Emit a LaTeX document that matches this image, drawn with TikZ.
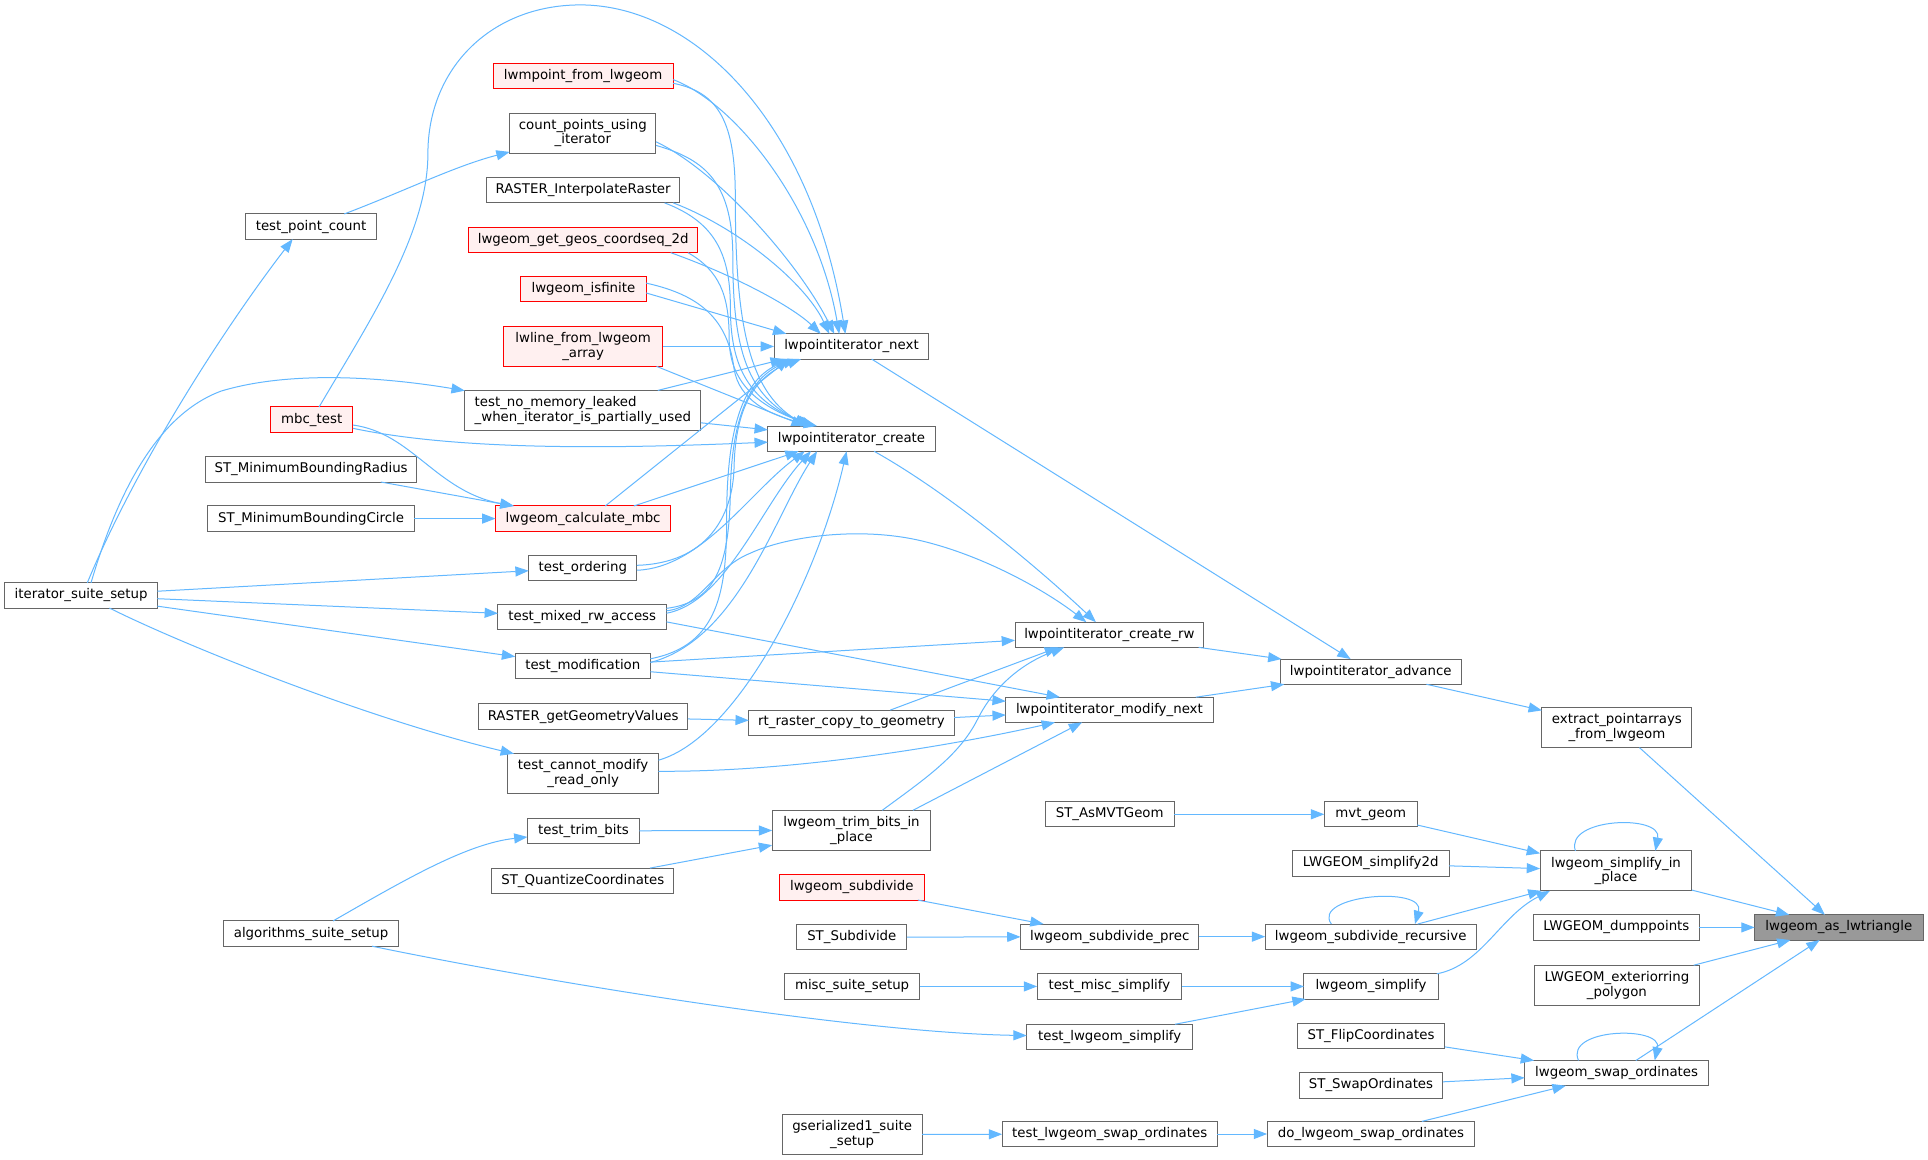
\documentclass[tikz,border=0pt]{standalone}
\usepackage{fontspec}
\setmainfont{DejaVu Sans}
\usetikzlibrary{arrows.meta,calc}
\definecolor{edgec}{HTML}{63B8FF}
\definecolor{bordc}{HTML}{666666}
\definecolor{redfill}{HTML}{FFF0F0}
\definecolor{rootfill}{HTML}{999999}
\begin{document}
\begin{tikzpicture}[x=0.9222pt,y=-0.9222pt,
 nbox/.style={draw=bordc,line width=0.75pt,fill=white,inner sep=0pt,outer sep=0pt,font=\fontsize{10}{11}\selectfont,align=center,text=black},
 redbox/.style={nbox,draw=red,fill=redfill},
 rootbox/.style={nbox,fill=rootfill},
 bb/.style n args={4}{minimum width={(#3-#1)*0.9222pt},minimum height={(#4-#2)*0.9222pt},at={({(#1+#3)/2},{(#2+#4)/2})}},
 edg/.style={draw=edgec,line width=0.75pt,-{Triangle[length=10pt,width=7.5pt]}}]
\fill[white] (0,0) rectangle (1568,943);
\useasboundingbox (0,0) rectangle (1568,943);
% nodes
\node[redbox,bb={401}{51.5}{547.5}{72}] (lwmpoint) {lwmpoint\_from\_lwgeom};
\node[nbox,bb={414.5}{92}{533.5}{124.5}] (countpts) {count\_points\_using\\\_iterator};
\node[nbox,bb={396}{144.5}{552.5}{165}] (rasterinterp) {RASTER\_InterpolateRaster};
\node[redbox,bb={381}{185}{567.5}{205.5}] (geos) {lwgeom\_get\_geos\_coordseq\_2d};
\node[redbox,bb={423.5}{225}{525.5}{245.5}] (isfinite) {lwgeom\_isfinite};
\node[redbox,bb={409.5}{265.5}{539}{298}] (lwline) {lwline\_from\_lwgeom\\\_array};
\node[nbox,align=left,bb={378}{317.5}{570}{350}] (nomem) {test\_no\_memory\_leaked\\\_when\_iterator\_is\_partially\_used};
\node[redbox,bb={220}{331}{287}{351.5}] (mbctest) {mbc\_test};
\node[nbox,bb={200}{174}{306}{194.5}] (tpc) {test\_point\_count};
\node[nbox,bb={167}{371.5}{339}{392}] (stmbr) {ST\_MinimumBoundingRadius};
\node[nbox,bb={169}{411.5}{337}{432}] (stmbc) {ST\_MinimumBoundingCircle};
\node[redbox,bb={403}{411.5}{545.5}{432}] (calcmbc) {lwgeom\_calculate\_mbc};
\node[nbox,bb={430}{451.5}{518}{472}] (tord) {test\_ordering};
\node[nbox,bb={4}{474}{128}{494.5}] (iss) {iterator\_suite\_setup};
\node[nbox,bb={405}{491.5}{542}{512}] (tmix) {test\_mixed\_rw\_access};
\node[nbox,bb={419}{531.5}{529}{552}] (tmod) {test\_modification};
\node[nbox,bb={389}{572.5}{559.5}{593}] (rgv) {RASTER\_getGeometryValues};
\node[nbox,bb={413}{613}{535.5}{645.5}] (tcannot) {test\_cannot\_modify\\\_read\_only};
\node[nbox,bb={429}{665.5}{520}{686}] (ttrim) {test\_trim\_bits};
\node[nbox,bb={400}{706}{548}{726.5}] (stquant) {ST\_QuantizeCoordinates};
\node[nbox,bb={182}{749}{324}{769.5}] (alg) {algorithms\_suite\_setup};
\node[nbox,bb={629.5}{271.5}{755.5}{292}] (next) {lwpointiterator\_next};
\node[nbox,bb={624.5}{346.5}{760.5}{367}] (create) {lwpointiterator\_create};
\node[nbox,bb={825.5}{506}{979}{526.5}] (createrw) {lwpointiterator\_create\_rw};
\node[nbox,bb={818}{567}{986.5}{587.5}] (modnext) {lwpointiterator\_modify\_next};
\node[nbox,bb={609}{577.5}{776}{598}] (rtraster) {rt\_raster\_copy\_to\_geometry};
\node[nbox,bb={628}{659}{757}{691.5}] (trimbits) {lwgeom\_trim\_bits\_in\\\_place};
\node[nbox,bb={1041}{536}{1188.5}{556.5}] (advance) {lwpointiterator\_advance};
\node[nbox,bb={1254}{575}{1376}{608}] (extract) {extract\_pointarrays\\\_from\_lwgeom};
\node[nbox,bb={850}{652}{955}{672.5}] (stasmvt) {ST\_AsMVTGeom};
\node[nbox,bb={1077}{652}{1152.5}{672.5}] (mvtgeom) {mvt\_geom};
\node[nbox,bb={1051}{692}{1178.5}{712.5}] (simp2d) {LWGEOM\_simplify2d};
\node[nbox,bb={1252.5}{692}{1376}{724.5}] (simpinplace) {lwgeom\_simplify\_in\\\_place};
\node[redbox,bb={634}{711.5}{751.5}{732}] (lwsubdiv) {lwgeom\_subdivide};
\node[nbox,bb={648}{752}{737.5}{772.5}] (stsubdiv) {ST\_Subdivide};
\node[nbox,bb={830}{751.5}{975}{772}] (subdivprec) {lwgeom\_subdivide\_prec};
\node[nbox,bb={1029}{751.5}{1200.5}{772}] (subdivrec) {lwgeom\_subdivide\_recursive};
\node[nbox,bb={1247}{744}{1382}{764.5}] (dumppoints) {LWGEOM\_dumppoints};
\node[rootbox,bb={1427}{744}{1564}{764.5}] (triangle) {lwgeom\_as\_lwtriangle};
\node[nbox,bb={1248}{785}{1382}{817.5}] (exterior) {LWGEOM\_exteriorring\\\_polygon};
\node[nbox,bb={638}{792}{748}{812.5}] (miscsetup) {misc\_suite\_setup};
\node[nbox,bb={843.5}{792}{961}{812.5}] (tmiscsimp) {test\_misc\_simplify};
\node[nbox,bb={1060.5}{792}{1169.5}{812.5}] (lwsimplify) {lwgeom\_simplify};
\node[nbox,bb={835}{833}{970}{853.5}] (tlwsimp) {test\_lwgeom\_simplify};
\node[nbox,bb={1055}{832}{1175}{852.5}] (stflip) {ST\_FlipCoordinates};
\node[nbox,bb={1056.5}{872.5}{1173.5}{893}] (stswap) {ST\_SwapOrdinates};
\node[nbox,bb={1240}{862.5}{1389.5}{883}] (swapord) {lwgeom\_swap\_ordinates};
\node[nbox,bb={636}{906.5}{750}{939}] (gser) {gserialized1\_suite\\\_setup};
\node[nbox,bb={815}{912}{990}{932.5}] (tswap) {test\_lwgeom\_swap\_ordinates};
\node[nbox,bb={1030.5}{912}{1199.5}{932.5}] (doswap) {do\_lwgeom\_swap\_ordinates};
% right part
\draw[edg] (advance) -- (extract);
\draw[edg] (extract) -- (triangle);
\draw[edg] (simpinplace) -- (triangle);
\draw[edg] (dumppoints) -- (triangle);
\draw[edg] (exterior) -- (triangle);
\draw[edg] (swapord) -- (triangle);
\draw[edg] ($(simpinplace.north)+(-33,0)$) .. controls (1272,665) and (1352,662) .. ($(simpinplace.north)+(32,0)$);
\draw[edg] (mvtgeom) -- (simpinplace);
\draw[edg] (simp2d) -- (simpinplace);
\draw[edg] (subdivrec) -- (simpinplace);
\draw[edg] (lwsimplify) .. controls (1205,785) and (1220,745) .. ($(simpinplace.south west)+(8,0)$);
\draw[edg] ($(subdivrec.north)+(-32,0)$) .. controls (1066,728) and (1160,720) .. ($(subdivrec.north)+(36,0)$);
\draw[edg] (stasmvt) -- (mvtgeom);
\draw[edg] (subdivprec) -- (subdivrec);
\draw[edg] (lwsubdiv) -- (subdivprec);
\draw[edg] (stsubdiv) -- (subdivprec);
\draw[edg] (tmiscsimp) -- (lwsimplify);
\draw[edg] (tlwsimp) -- (lwsimplify);
\draw[edg] (miscsetup) -- (tmiscsimp);
\draw[edg] (alg) .. controls (450,800) and (700,840) .. (tlwsimp);
\draw[edg] (alg) .. controls (330,715) and (380,686) .. (ttrim);
\draw[edg] (stflip) -- (swapord);
\draw[edg] (stswap) -- (swapord);
\draw[edg] (doswap) -- (swapord);
\draw[edg] ($(swapord.north)+(-31,0)$) .. controls (1272,836) and (1352,834) .. ($(swapord.north)+(31,0)$);
\draw[edg] (tswap) -- (doswap);
\draw[edg] (gser) -- (tswap);
% middle part
\draw[edg] (next) -- (advance);
\draw[edg] (createrw) -- (advance);
\draw[edg] (modnext) -- (advance);
\draw[edg] (create) .. controls (770,400) and (840,458) .. (createrw);
\draw[edg] (tmod) -- (createrw);
\draw[edg] (tmod) -- (modnext);
\draw[edg] ($(tmix.east)+(0,4)$) -- ($(modnext.north west)+(44,0)$);
\draw[edg] ($(tmix.east)+(0,-5)$) .. controls (570,494) and (580,462) .. (610,450) .. controls (640,436) and (700,428) .. (750,440) .. controls (800,452) and (850,480) .. ($(createrw.north west)+(58,0)$);
\draw[edg] ($(rtraster.north east)+(-52,0)$) -- ($(createrw.south west)+(35,0)$);
\draw[edg] (rtraster) -- (modnext);
\draw[edg] (rgv) -- (rtraster);
\draw[edg] ($(tcannot.east)+(0,-2)$) .. controls (650,628) and (780,605) .. ($(modnext.south west)+(40,0)$);
\draw[edg] ($(tcannot.east)+(0,-11)$) .. controls (600,600) and (665,470) .. ($(create.south east)+(-72,0)$);
\draw[edg] ($(trimbits.north)+(25,0)$) .. controls (750,635) and (780,615) .. (795,585) .. controls (810,555) and (835,538) .. ($(createrw.south west)+(40,0)$);
\draw[edg] ($(trimbits.north)+(50,0)$) -- ($(modnext.south west)+(62,0)$);
\draw[edg] (ttrim) -- (trimbits);
\draw[edg] (stquant) -- (trimbits);
% into lwpointiterator_next
\draw[edg] ($(lwmpoint.east)+(0,3)$) .. controls (600,85) and (665,170) .. ($(next.north)+(-10,0)$);
\draw[edg] ($(countpts.east)+(0,7)$) .. controls (585,140) and (650,215) .. ($(next.north)+(-14,0)$);
\draw[edg] ($(rasterinterp.south east)+(-5,0)$) .. controls (600,185) and (655,230) .. ($(next.north)+(-18,0)$);
\draw[edg] ($(geos.south east)+(-22,0)$) .. controls (600,225) and (645,250) .. ($(next.north west)+(38,0)$);
\draw[edg] ($(isfinite.east)+(0,3)$) -- ($(next.north west)+(10,0)$);
\draw[edg] (lwline) -- (next);
\draw[edg] ($(nomem.north east)+(-35,0)$) -- ($(next.south west)+(8,0)$);
\draw[edg] ($(mbctest.north)+(6,0)$) .. controls (300,262) and (348,190) .. (348,125) .. controls (348,55) and (400,4) .. (472,4) .. controls (565,4) and (660,100) .. ($(next.north)+(-5,0)$);
\draw[edg] ($(calcmbc.north)+(18,0)$) -- ($(next.south west)+(12,0)$);
\draw[edg] ($(tord.east)+(0,-2)$) .. controls (575,458) and (596,420) .. (597,380) .. controls (598,330) and (615,305) .. ($(next.south west)+(22,0)$);
\draw[edg] ($(tmix.east)+(0,-7)$) .. controls (582,490) and (593,460) .. (594,400) .. controls (595,335) and (612,305) .. ($(next.south west)+(18,0)$);
\draw[edg] ($(tmod.east)+(0,-6)$) .. controls (585,525) and (591,480) .. (591,420) .. controls (591,335) and (610,305) .. ($(next.south west)+(15,0)$);
% into lwpointiterator_create
\draw[edg] ($(lwmpoint.east)+(0,6)$) .. controls (585,75) and (598,100) .. (598,160) .. controls (598,260) and (608,318) .. ($(create.north west)+(32,0)$);
\draw[edg] ($(countpts.east)+(0,10)$) .. controls (575,130) and (596,150) .. (596,210) .. controls (596,285) and (608,322) .. ($(create.north west)+(34,0)$);
\draw[edg] ($(rasterinterp.south east)+(-12,0)$) .. controls (580,180) and (594,205) .. (594,250) .. controls (594,300) and (610,326) .. ($(create.north west)+(36,0)$);
\draw[edg] ($(geos.south east)+(-8,0)$) .. controls (585,220) and (593,240) .. (593,275) .. controls (593,310) and (615,330) .. ($(create.north west)+(38,0)$);
\draw[edg] ($(isfinite.east)+(0,-5)$) .. controls (570,240) and (592,260) .. (597,300) .. controls (601,325) and (625,338) .. ($(create.north west)+(40,0)$);
\draw[edg] ($(lwline.south east)+(-5,0)$) -- ($(create.north west)+(30,0)$);
\draw[edg] (nomem) -- (create);
\draw[edg] (mbctest) .. controls (380,368) and (520,364) .. (create);
\draw[edg] ($(calcmbc.north east)+(-30,0)$) -- ($(create.south west)+(25,0)$);
\draw[edg] ($(tord.east)+(0,2)$) .. controls (570,462) and (610,400) .. ($(create.south west)+(30,0)$);
\draw[edg] ($(tmix.east)+(0,-3)$) .. controls (590,490) and (620,410) .. ($(create.south west)+(35,0)$);
\draw[edg] ($(tmod.east)+(0,-3)$) .. controls (600,520) and (630,420) .. ($(create.south west)+(40,0)$);
% left part
\draw[edg] (tpc) .. controls (330,155) and (370,135) .. (countpts);
\draw[edg] ($(iss.north)+(5,0)$) .. controls (110,380) and (180,270) .. ($(tpc.south)+(-15,0)$);
\draw[edg] ($(iss.north)+(8,0)$) .. controls (90,420) and (120,340) .. (180,318) .. controls (240,300) and (320,308) .. (nomem);
\draw[edg] (iss) -- (tord);
\draw[edg] (iss) -- (tmix);
\draw[edg] (iss) -- (tmod);
\draw[edg] ($(iss.south)+(23,0)$) .. controls (150,525) and (300,585) .. ($(tcannot.north west)+(5,0)$);
\draw[edg] (mbctest) .. controls (335,352) and (355,400) .. (calcmbc);
\draw[edg] (stmbr) -- (calcmbc);
\draw[edg] (stmbc) -- (calcmbc);
\end{tikzpicture}
\end{document}
